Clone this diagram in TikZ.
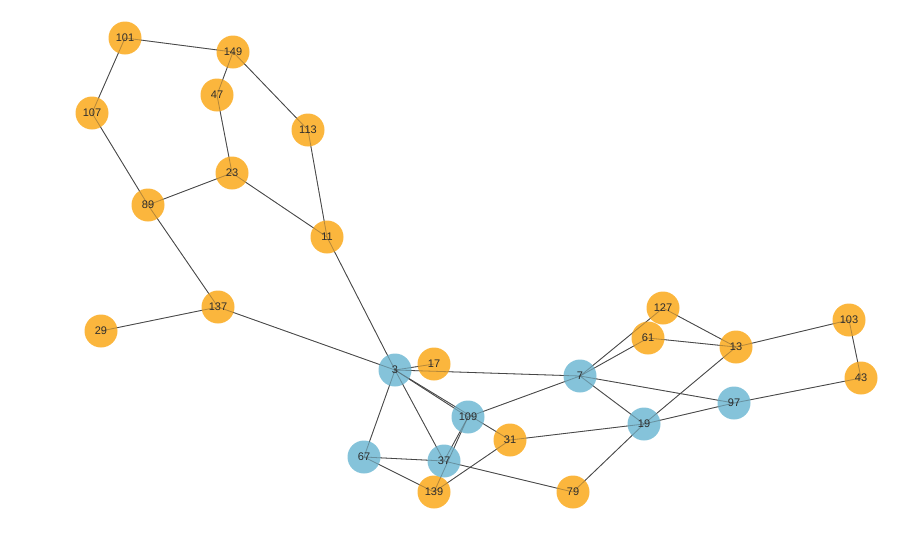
\documentclass[tikz,border=0pt]{standalone}
\usepackage{fontspec}
\setmainfont{Liberation Sans}
\definecolor{nodeorange}{RGB}{251,178,51}
\definecolor{nodeblue}{RGB}{126,192,216}
\definecolor{edgegray}{RGB}{70,70,70}
\definecolor{labelgray}{RGB}{45,45,45}
\begin{document}
\begin{tikzpicture}[x=1pt,y=-1pt,
  vert/.style={circle,minimum size=33pt,inner sep=0pt,font=\fontsize{11}{13}\selectfont,text=labelgray},
  vo/.style={vert,fill=nodeorange,fill opacity=0.95},
  vb/.style={vert,fill=nodeblue,fill opacity=0.95},
  edge/.style={draw=edgegray,line width=0.8pt}]
\useasboundingbox (0,0) rectangle (915,552);
% coordinates
\coordinate (p101) at (125,38);
\coordinate (p149) at (233,52);
\coordinate (p47) at (217,95);
\coordinate (p107) at (92,113);
\coordinate (p113) at (308,130);
\coordinate (p23) at (232,173);
\coordinate (p89) at (148,205);
\coordinate (p11) at (327,237);
\coordinate (p137) at (218,307);
\coordinate (p29) at (101,331);
\coordinate (p3) at (395,370);
\coordinate (p17) at (434,364);
\coordinate (p7) at (580,376);
\coordinate (p127) at (663,308);
\coordinate (p61) at (648,338);
\coordinate (p13) at (736,347);
\coordinate (p103) at (849,320);
\coordinate (p43) at (861,378);
\coordinate (p97) at (734,403);
\coordinate (p19) at (644,424);
\coordinate (p109) at (468,417);
\coordinate (p31) at (510,440);
\coordinate (p67) at (364,457);
\coordinate (p37) at (444,461);
\coordinate (p139) at (434,492);
\coordinate (p79) at (573,492);
\def\edgelist{101/149,101/107,149/47,149/113,47/23,107/89,23/89,23/11,113/11,89/137,137/29,137/3,11/3,3/17,3/7,3/109,3/31,3/67,3/37,7/109,7/127,7/61,7/19,7/97,61/13,127/13,13/103,13/19,103/43,43/97,97/19,19/31,19/79,109/37,109/139,31/139,67/37,67/139,37/79}
% edges
\foreach \a/\b in \edgelist
  \draw[edge] (p\a) -- (p\b);
% node discs
\foreach \n in {101,149,47,107,113,23,89,11,137,29,17,127,61,13,103,43,31,139,79}
  \node[vo] (n\n) at (p\n) {};
\foreach \n in {3,7,97,19,109,67,37}
  \node[vb] (n\n) at (p\n) {};
% edges showing faintly through the discs
\foreach \a/\b in \edgelist
  \draw[edge,draw opacity=0.35] (n\a.center) -- (n\b.center);
% labels
\foreach \n in {101,149,47,107,113,23,89,11,137,29,17,127,61,13,103,43,31,139,79,3,7,97,19,109,67,37}
  \node[vert] (t\n) at (n\n.center) {\n};
\end{tikzpicture}
\end{document}
